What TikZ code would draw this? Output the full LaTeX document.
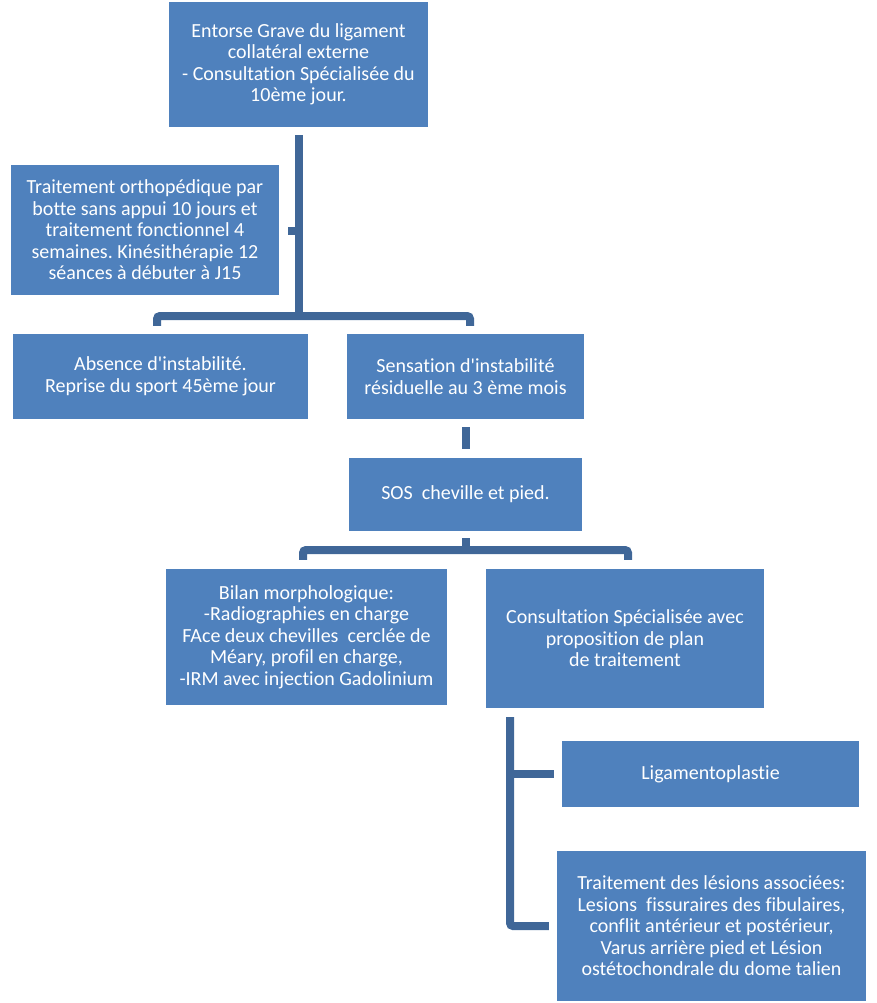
\documentclass[tikz,border=0pt]{standalone}
\usepackage{fontspec}
\setmainfont{Carlito}[Ligatures=NoCommon]
\definecolor{boxblue}{RGB}{79,129,189}
\definecolor{connblue}{RGB}{64,103,152}
\frenchspacing
\begin{document}
\begin{tikzpicture}[x=1pt,y=-1pt,
  box/.style={draw=none,fill=boxblue,text=white,inner sep=0pt,align=center,
    font=\fontsize{20}{21.5}\selectfont},
  conn/.style={draw=connblue,line width=8pt,rounded corners=3pt}]
\useasboundingbox (0,0) rectangle (876,1003);
% boxes (centre, size)
\node[box,minimum width=259,minimum height=125] (top) at (298.5,64.5)
  {Entorse Grave du ligament\\collatéral externe\\- Consultation Spécialisée du\\10ème jour.};
\node[box,minimum width=268,minimum height=130] (trt) at (145,230)
  {Traitement orthopédique par\\botte sans appui 10 jours et\\traitement fonctionnel 4\\semaines. Kinésithérapie 12\\séances à débuter à J15};
\node[box,minimum width=295,minimum height=85] (abs) at (160.5,376.5)
  {Absence d\textquotesingle instabilité.\\Reprise du sport 45ème jour};
\node[box,minimum width=237,minimum height=85] (sen) at (465.5,376.5)
  {Sensation d\textquotesingle instabilité\\résiduelle au 3 ème mois};
\node[box,minimum width=233,minimum height=73] (sos) at (465.5,494.5)
  {SOS\ \ cheville et pied.};
\node[box,minimum width=281,minimum height=136] (bil) at (306.5,637)
  {Bilan morphologique:\\-Radiographies en charge\\FAce deux chevilles\ \ cerclée de\\Méary, profil en charge,\\-IRM avec injection Gadolinium};
\node[box,minimum width=278,minimum height=139] (con) at (625,638.5)
  {Consultation Spécialisée avec\\proposition de plan\\de traitement};
\node[box,minimum width=297,minimum height=66] (lig) at (710.5,774)
  {Ligamentoplastie};
\node[box,minimum width=309,minimum height=150] (les) at (711.5,926)
  {Traitement des lésions associées:\\Lesions\ \ fissuraires des fibulaires,\\conflit antérieur et postérieur,\\Varus arrière pied et Lésion\\ostétochondrale du dome talien};
% connectors
\coordinate (t1) at ([yshift=-8]top.south);
\coordinate (tb) at (top.south |- 0,316);
\draw[conn] (t1) -- (tb);
\draw[conn] (trt.east |- 0,231) ++(9,0) -- (298,231);
\draw[conn] ([xshift=-3.5,yshift=8]abs.north) |- (tb) -| ([xshift=4.5,yshift=8]sen.north);
\draw[conn] ([yshift=-8]sen.south) -- ([yshift=-30]sen.south);
\coordinate (sb) at (sos.south |- 0,550);
\draw[conn] ([yshift=-7]sos.south) -- (sb);
\draw[conn] ([xshift=-3.5,yshift=9]bil.north) |- (sb) -| ([xshift=3,yshift=9]con.north);
\coordinate (c1) at (510,717);
\draw[conn] (c1) |- ([xshift=-8]les.west |- 0,926);
\draw[conn] (510,774) -- ([xshift=-8]lig.west);
\end{tikzpicture}
\end{document}
